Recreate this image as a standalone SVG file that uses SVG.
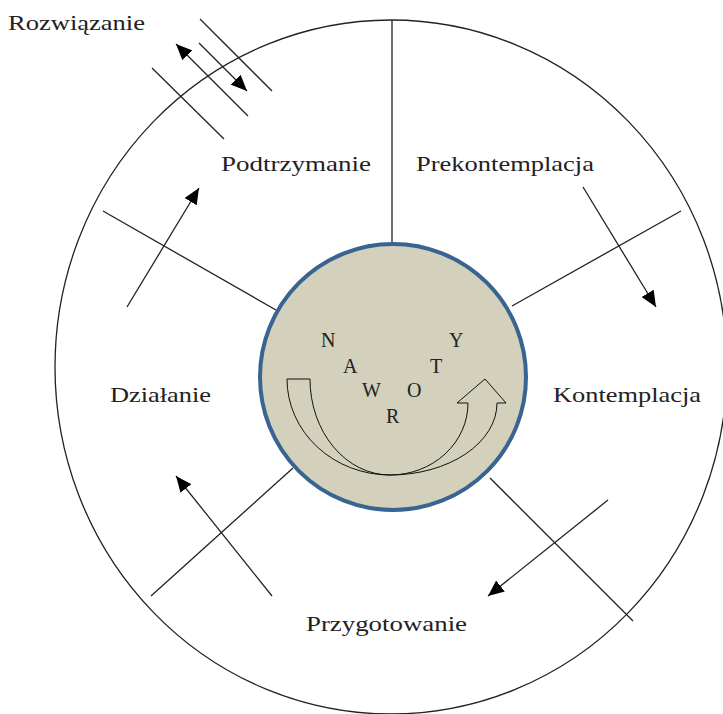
<svg xmlns="http://www.w3.org/2000/svg" width="723" height="714" viewBox="0 0 723 714">
<defs>
<marker id="ah" markerUnits="userSpaceOnUse" markerWidth="18" markerHeight="14" refX="16" refY="7" orient="auto">
<path d="M0,0 L16,7 L0,14 Z" fill="#000"/>
</marker>
<style>
.ln{stroke:#222;stroke-width:1.3;fill:none}
.ar{stroke:#222;stroke-width:1.3;fill:none;marker-end:url(#ah)}
.lb{font-family:"Liberation Serif","DejaVu Serif",serif;font-size:22px;fill:#222}
.lt{font-family:"Liberation Serif","DejaVu Serif",serif;font-size:20px;fill:#222}
</style>
</defs>
<rect width="723" height="714" fill="#fff"/>
<g id="outer">
<ellipse cx="391" cy="367" rx="336" ry="347" class="ln"/>
</g>
<g id="connectors">
<line x1="392" y1="20" x2="392" y2="243" class="ln"/>
<line x1="512" y1="306" x2="681" y2="211" class="ln"/>
<line x1="490" y1="478" x2="633" y2="621" class="ln"/>
<line x1="293" y1="468" x2="151" y2="596" class="ln"/>
<line x1="276" y1="310" x2="103" y2="211" class="ln"/>
<line x1="127" y1="307" x2="199" y2="188" class="ar"/>
<line x1="583" y1="187" x2="656" y2="307" class="ar"/>
<line x1="608" y1="500" x2="488" y2="596" class="ar"/>
<line x1="272" y1="596" x2="176" y2="476" class="ar"/>
<line x1="200" y1="19" x2="272" y2="91" class="ln"/>
<line x1="152" y1="68" x2="224" y2="139" class="ln"/>
<line x1="248" y1="116" x2="176" y2="44" class="ar"/>
<line x1="199" y1="43" x2="247" y2="91" class="ar"/>
</g>
<g id="center">
<circle cx="393" cy="377" r="133" fill="#d3d0bb" stroke="#386491" stroke-width="4"/>
<path d="M287,379 L310,379 A80,96 0 0 0 390,475 A78,72 0 0 0 468,403 L457,403 L485,379 L506,403 L497,403 A107,72 0 0 1 390,475 A103,96 0 0 1 287,379 Z" fill="none" stroke="#111" stroke-width="1"/>
<text class="lt" x="321" y="347">N</text>
<text class="lt" x="343" y="373">A</text>
<text class="lt" x="362" y="397">W</text>
<text class="lt" x="386" y="423">R</text>
<text class="lt" x="407" y="397">O</text>
<text class="lt" x="430" y="373">T</text>
<text class="lt" x="449" y="347">Y</text>
</g>
<g id="rozwiazanie"><text class="lb" x="8" y="30" textLength="137" lengthAdjust="spacingAndGlyphs">Rozwiązanie</text></g>
<g id="podtrzymanie"><text class="lb" x="221" y="171" textLength="150" lengthAdjust="spacingAndGlyphs">Podtrzymanie</text></g>
<g id="prekontemplacja"><text class="lb" x="416" y="171" textLength="178" lengthAdjust="spacingAndGlyphs">Prekontemplacja</text></g>
<g id="kontemplacja"><text class="lb" x="553" y="402" textLength="148" lengthAdjust="spacingAndGlyphs">Kontemplacja</text></g>
<g id="dzialanie"><text class="lb" x="110" y="402" textLength="101" lengthAdjust="spacingAndGlyphs">Działanie</text></g>
<g id="przygotowanie"><text class="lb" x="306" y="631" textLength="161" lengthAdjust="spacingAndGlyphs">Przygotowanie</text></g>
</svg>
